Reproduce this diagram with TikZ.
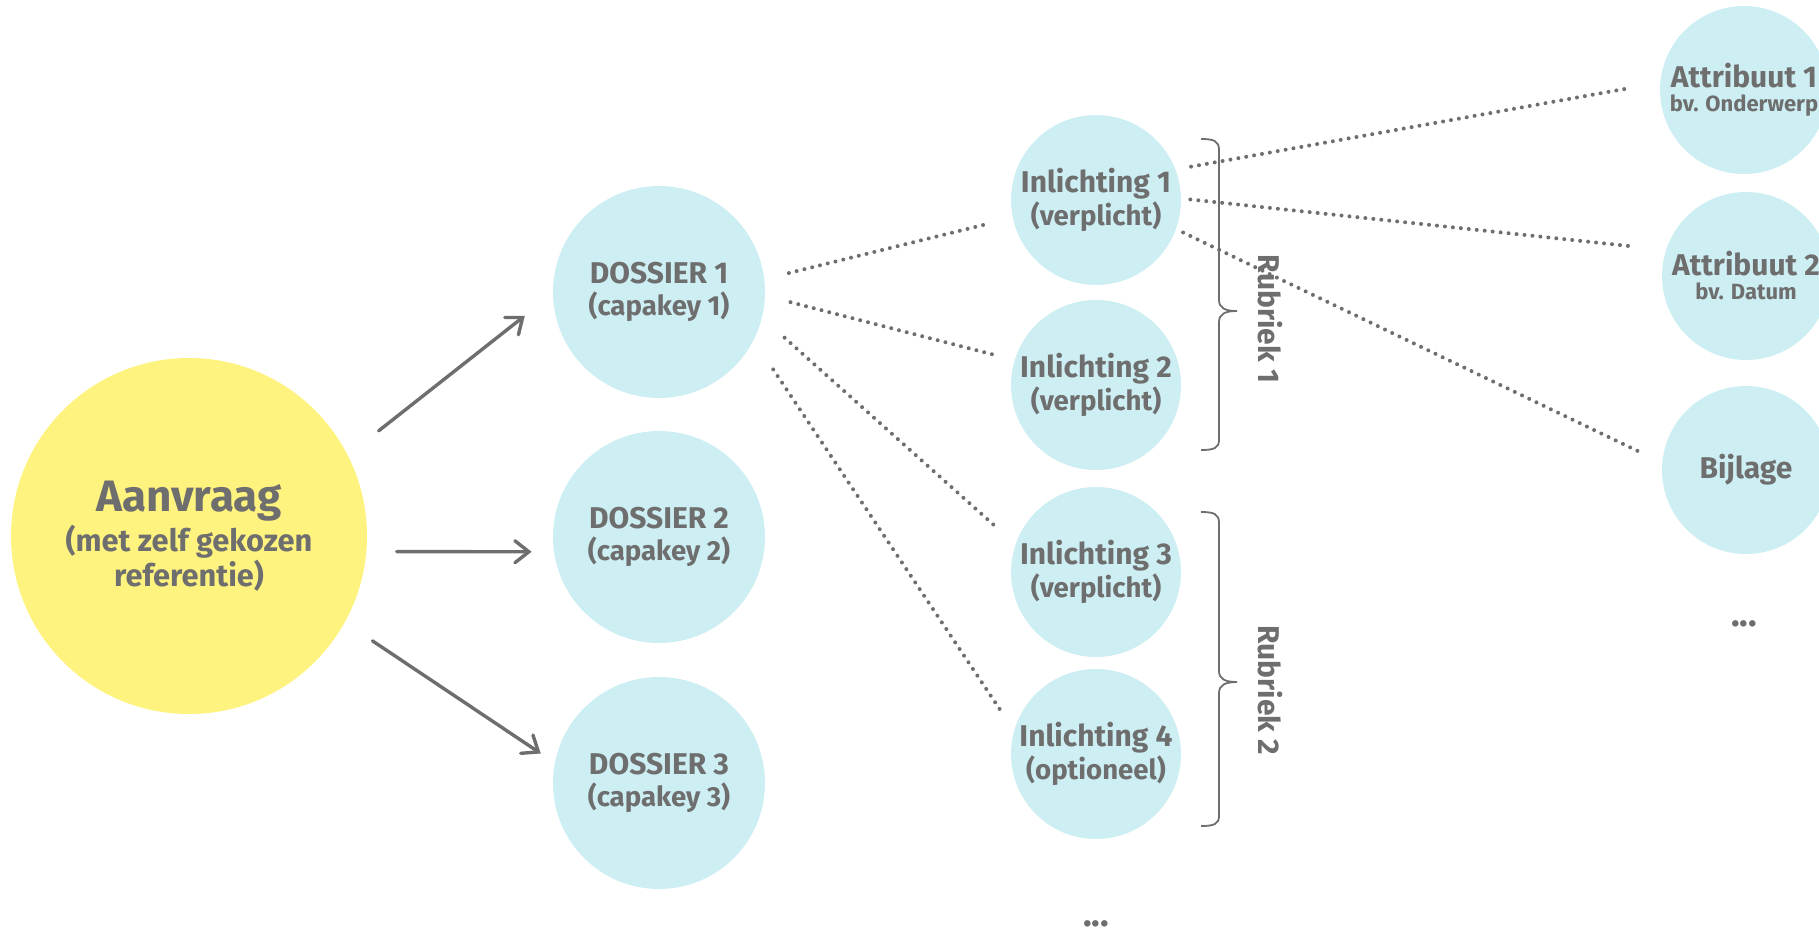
\documentclass[tikz,border=0pt]{standalone}
\usepackage{fontspec}
\setmainfont{Fira Sans}
\usetikzlibrary{arrows.meta}

\definecolor{tekst}{HTML}{6E6E6E}
\definecolor{geel}{HTML}{FFF37F}
\definecolor{lichtblauw}{HTML}{CDEEF2}

\newcommand{\groot}{\fontsize{15}{14}\selectfont}
\newcommand{\klein}{\fontsize{13.8}{14}\selectfont}

\begin{document}
\begin{tikzpicture}[x=0.5pt, y=-0.5pt,
    bol/.style={circle, fill=lichtblauw, text=tekst, align=center,
      inner sep=0pt, font=\bfseries},
    pijl/.style={draw=tekst, line width=1.7pt, line cap=round,
      -{Straight Barb[length=7pt, width=11pt, line cap=round]}},
    stippel/.style={draw=tekst, line width=2pt, line cap=round,
      dash pattern=on 0pt off 4pt},
    accolade/.style={draw=tekst, line width=0.9pt}]
    \clip (0, 0) rectangle (1819, 937);

    % aanvraag
    \node[bol, fill=geel, minimum size=178pt] (aanvraag) at (189, 536)
    {\fontsize{22}{16}\selectfont Aanvraag\\[1pt]
      \fontsize{15.4}{14.5}\selectfont (met zelf gekozen\\
      \fontsize{15.4}{14.5}\selectfont referentie)};

    % dossiers
    \node[bol, minimum size=106pt] (dossier1) at (659, 292)
    {\groot DOSSIER 1\\[2.5pt]\klein (capakey 1)};
    \node[bol, minimum size=106pt] (dossier2) at (659, 537)
    {\groot DOSSIER 2\\[2.5pt]\klein (capakey 2)};
    \node[bol, minimum size=106pt] (dossier3) at (659, 783)
    {\groot DOSSIER 3\\[2.5pt]\klein (capakey 3)};

    % inlichtingen
    \node[bol, minimum size=85pt] (inl1) at (1096, 200)
    {\groot Inlichting 1\\[0.5pt]\klein (verplicht)};
    \node[bol, minimum size=85pt] (inl2) at (1096, 385)
    {\groot Inlichting 2\\[0.5pt]\klein (verplicht)};
    \node[bol, minimum size=85pt] (inl3) at (1096, 572)
    {\groot Inlichting 3\\[0.5pt]\klein (verplicht)};
    \node[bol, minimum size=85pt] (inl4) at (1096, 754)
    {\groot Inlichting 4\\[0.5pt]\klein (optioneel)};
    \node[text=tekst, font=\bfseries\fontsize{18}{18}\selectfont] (meer1) at (1096, 924) {...};

    % attributen
    \node[bol, minimum size=84pt] (attr1) at (1744, 90)
    {\groot Attribuut 1\\\fontsize{11}{12}\selectfont bv. Onderwerp};
    \node[bol, minimum size=84pt] (attr2) at (1746, 276)
    {\groot Attribuut 2\\\fontsize{11}{12}\selectfont bv. Datum};
    \node[bol, minimum size=84pt] (bijlage) at (1746, 470) {\groot Bijlage};
    \node[text=tekst, font=\bfseries\fontsize{18}{18}\selectfont] (meer2) at (1744, 624) {...};

    % pijlen
    \draw[pijl, shorten <=19.5pt, shorten >=17.7pt] (aanvraag.27.5) -- (dossier1.181.8);
    \draw[pijl, shorten <=15pt, shorten >=11pt] (aanvraag.-5.2) -- (dossier2.188.1);
    \draw[pijl, shorten <=16.5pt, shorten >=8.3pt] (aanvraag.-29.1) -- (dossier3.169.3);

    % stippellijnen
    \draw[stippel, shorten <=12.5pt, shorten >=14.8pt] (dossier1.7.5) -- (inl1.192.1);
    \draw[stippel, shorten <=13pt, shorten >=10.8pt] (dossier1.-2.6) -- (inl2.163.1);
    \draw[stippel, shorten <=15pt, shorten >=11.9pt] (dossier1.-14) -- (inl3.161.2);
    \draw[stippel, shorten <=17.5pt, shorten >=10.5pt] (dossier1.-27.5) -- (inl4.164.1);
    \draw[stippel, shorten <=7.8pt, shorten >=14.2pt] (inl1.21) -- (attr1.175.4);
    \draw[stippel, shorten <=4.5pt, shorten >=18.7pt] (inl1.1.8) -- (attr2.162.6);
    \draw[stippel, shorten <=3.8pt, shorten >=13.2pt] (inl1.-20.2) -- (bijlage.175.3);

    % rubrieken
    \draw[accolade] (1201, 139) .. controls (1214, 139) and (1219, 141) .. (1219, 150)
    -- (1219, 300) .. controls (1219, 308) and (1225, 311) .. (1237, 311)
    .. controls (1225, 311) and (1219, 314) .. (1219, 322)
    -- (1219, 440) .. controls (1219, 448) and (1214, 450) .. (1201, 450);
    \draw[accolade] (1201, 512) .. controls (1214, 512) and (1219, 514) .. (1219, 523)
    -- (1219, 671) .. controls (1219, 679) and (1225, 682) .. (1237, 682)
    .. controls (1225, 682) and (1219, 685) .. (1219, 693)
    -- (1219, 816) .. controls (1219, 824) and (1214, 826) .. (1201, 826);
    \node[rotate=-90, text=tekst, font=\bfseries\fontsize{15}{15}\selectfont] (rubriek1) at (1270, 319) {Rubriek 1};
    \node[rotate=-90, text=tekst, font=\bfseries\fontsize{15}{15}\selectfont] (rubriek2) at (1270, 690) {Rubriek 2};
\end{tikzpicture}
\end{document}
